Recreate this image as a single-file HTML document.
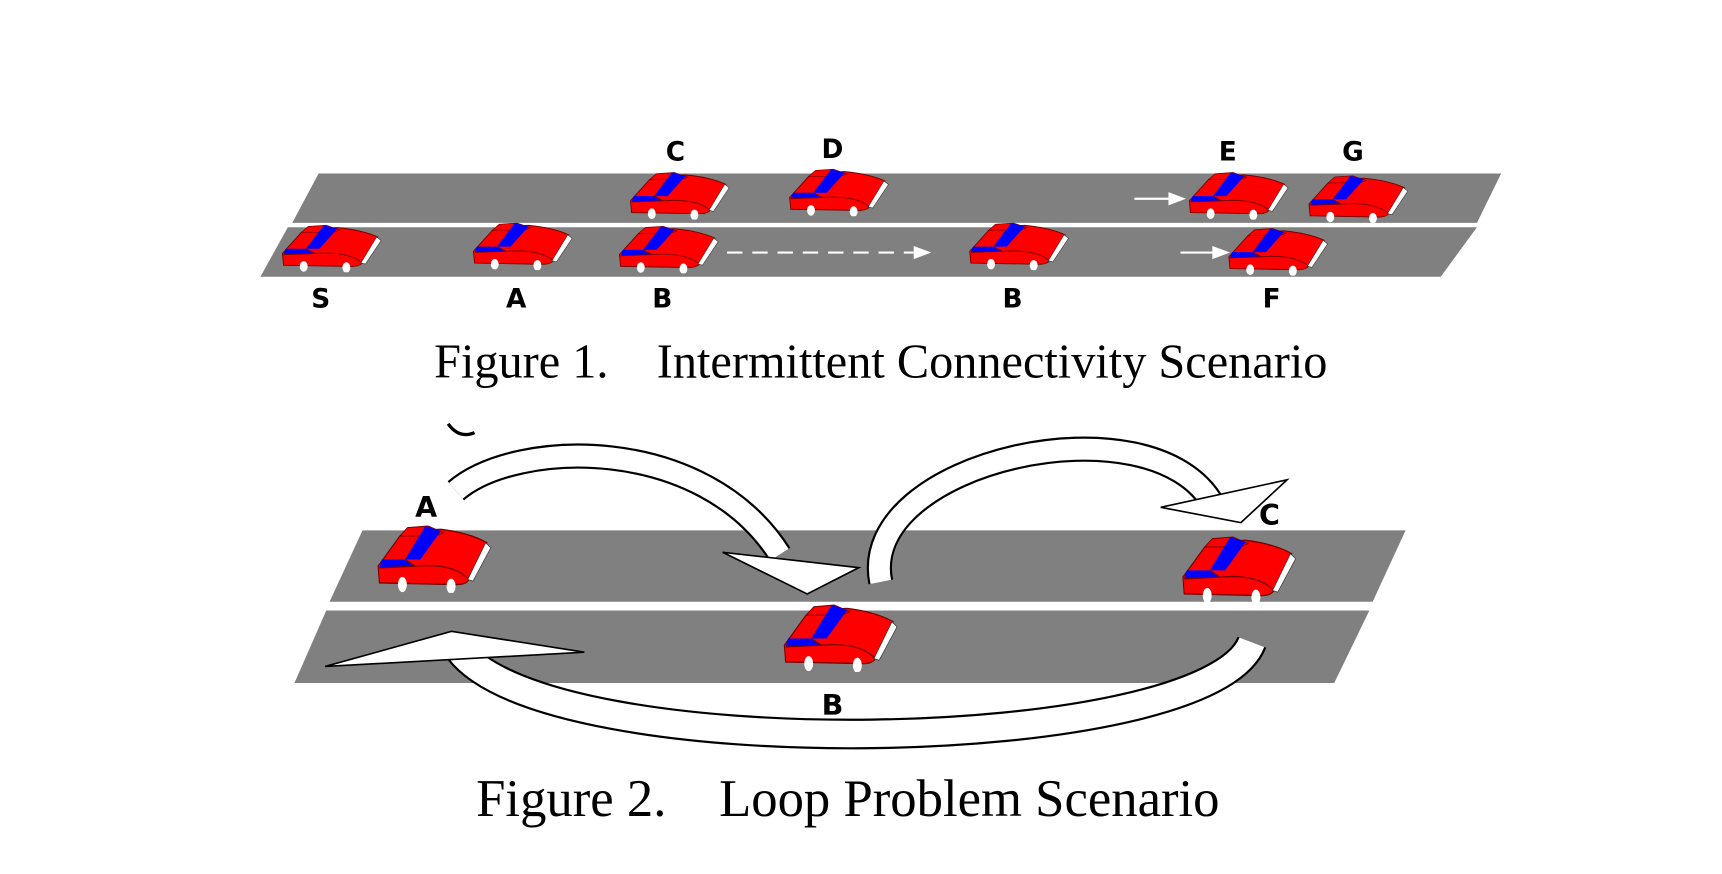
<!DOCTYPE html>
<html><head><meta charset="utf-8"><style>
html,body{margin:0;padding:0;background:#fff;}
svg{display:block;}
</style></head><body>
<svg width="1722" height="874" viewBox="0 0 1568 796" xmlns="http://www.w3.org/2000/svg">
<defs>
<symbol id="car" viewBox="0 0 90 42" preserveAspectRatio="none">
<path d="M1,26 L18,8 L24,5 L50,4 Q72,6 86,12 L72,34 Q70,37 62,37 L2,36 Z" fill="#f00" stroke="#700" stroke-width="0.8"/>
<path d="M18,8 L24,3 L40,2 L52,6 L46,8 Z" fill="#f00" stroke="#700" stroke-width="0.6"/>
<path d="M38,2 L50,5 L34,22 L22,22 Z" fill="#00f"/>
<path d="M4,22 L22,22 L30,26 L2,27 Z" fill="#00f"/>
<path d="M22,22 L30,26 Q60,24 72,34" fill="none" stroke="#700" stroke-width="0.8"/>
<path d="M2,27 L30,26" stroke="#700" stroke-width="0.8"/>
<path d="M85,12 L89,15 L75,35 L71,34 Z" fill="#fff" stroke="#333" stroke-width="0.5"/>
<ellipse cx="20" cy="37" rx="3.5" ry="4.5" fill="#fff"/>
<ellipse cx="58" cy="38" rx="3.5" ry="4.5" fill="#fff"/>
</symbol>
</defs>
<polygon points="290,158 1367,158 1345,203 266,203" fill="#808080"/>
<polygon points="262,207 1345,207 1312,252 237,252" fill="#808080"/>
<g font-family="DejaVu Sans, sans-serif" font-weight="bold" font-size="24" text-anchor="middle" fill="#000">
<text x="615" y="146">C</text><text x="758" y="144">D</text><text x="1118" y="146">E</text><text x="1232" y="146">G</text>
<text x="292" y="280">S</text><text x="470" y="280">A</text><text x="603" y="280">B</text><text x="922" y="280">B</text><text x="1158" y="280">F</text>
</g>
<use href="#car" x="573" y="155" width="92" height="45"/>
<use href="#car" x="718" y="152" width="92" height="45"/>
<use href="#car" x="1082" y="155" width="92" height="45"/>
<use href="#car" x="1191" y="158" width="92" height="45"/>
<use href="#car" x="256" y="203" width="92" height="45"/>
<use href="#car" x="430" y="201" width="92" height="45"/>
<use href="#car" x="563" y="204" width="92" height="45"/>
<use href="#car" x="882" y="201" width="92" height="45"/>
<use href="#car" x="1118" y="206" width="92" height="45"/>
<line x1="662" y1="230" x2="832" y2="230" stroke="#fff" stroke-width="2" stroke-dasharray="14,9"/>
<polygon points="832,224 848,230 832,236" fill="#fff"/>
<line x1="1033" y1="181" x2="1066" y2="181" stroke="#fff" stroke-width="2"/>
<polygon points="1064,175 1080,181 1064,187" fill="#fff"/>
<line x1="1075" y1="230" x2="1106" y2="230" stroke="#fff" stroke-width="2"/>
<polygon points="1104,224 1120,230 1104,236" fill="#fff"/>
<text x="802" y="344" font-family="Liberation Serif, serif" font-size="44" text-anchor="middle" xml:space="preserve">Figure 1.    Intermittent Connectivity Scenario</text>
<path d="M408,386 Q418,400 432,394" fill="none" stroke="#000" stroke-width="3"/>
<polygon points="330,483 1280,483 1250,548 300,548" fill="#808080"/>
<polygon points="297,556 1247,556 1215,622 268,622" fill="#808080"/>
<path d="M415,447 C470,400 640,395 710,505" fill="none" stroke="#000" stroke-width="23"/>
<path d="M415,447 C470,400 640,395 710,505" fill="none" stroke="#fff" stroke-width="19"/>
<polygon points="658,503 782,517 735,541" fill="#fff" stroke="#000" stroke-width="1.5"/>
<path d="M802,530 C780,420 1050,360 1105,460" fill="none" stroke="#000" stroke-width="23"/>
<path d="M802,530 C780,420 1050,360 1105,460" fill="none" stroke="#fff" stroke-width="19"/>
<polygon points="1057,462 1172,437 1130,476" fill="#fff" stroke="#000" stroke-width="1.5"/>
<path d="M1140,585 C1100,690 500,700 418,592" fill="none" stroke="#000" stroke-width="28"/>
<path d="M1140,585 C1100,690 500,700 418,592" fill="none" stroke="#fff" stroke-width="24"/>
<polygon points="296,607 411,575 532,594" fill="#fff" stroke="#000" stroke-width="1.5"/>
<use href="#car" x="343" y="476" width="105" height="64"/>
<use href="#car" x="713" y="548" width="105" height="64"/>
<use href="#car" x="1076" y="486" width="105" height="64"/>
<g font-family="DejaVu Sans, sans-serif" font-weight="bold" font-size="26" text-anchor="middle">
<text x="388" y="471">A</text><text x="1156" y="478">C</text><text x="758" y="651">B</text>
</g>
<text x="772" y="743" font-family="Liberation Serif, serif" font-size="48" text-anchor="middle" xml:space="preserve">Figure 2.    Loop Problem Scenario</text>
</svg>
</body></html>
